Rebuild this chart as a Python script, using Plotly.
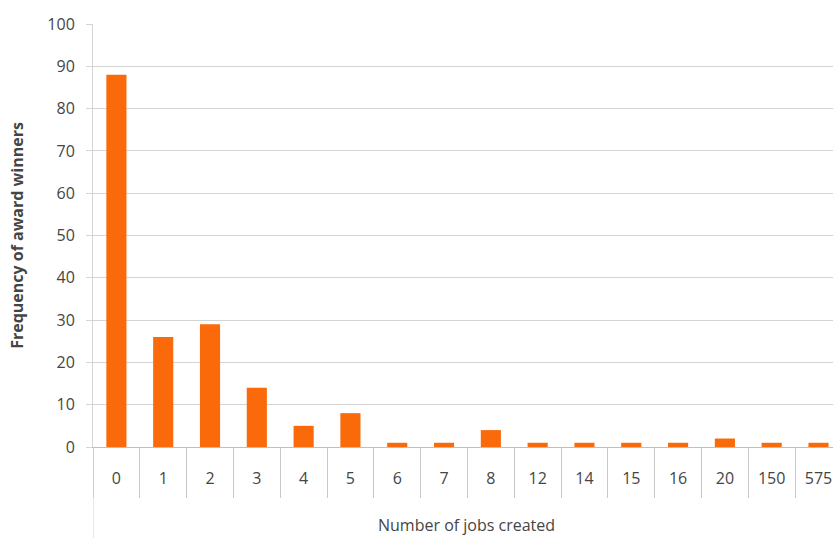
import plotly.graph_objects as go

categories = ["0", "1", "2", "3", "4", "5", "6", "7", "8", "12", "14", "15", "16", "20", "150", "575"]
frequency = [88, 26, 29, 14, 5, 8, 1, 1, 4, 1, 1, 1, 1, 2, 1, 1]
y_ticks = [0, 10, 20, 30, 40, 50, 60, 70, 80, 90, 100]

font_family = "Open Sans, sans-serif"
text_color = "#454545"
grid_color = "#d4d4d4"

fig = go.Figure(go.Bar(
    x=categories, y=frequency,
    marker=dict(color="#FA6A0A", line=dict(width=0)),
    width=0.43,
))

fig.update_layout(
    width=833, height=538,
    margin=dict(l=93, r=0, t=24, b=91),
    paper_bgcolor="white", plot_bgcolor="white",
    showlegend=False,
    font=dict(family=font_family, size=16, color=text_color),
)

fig.update_xaxes(
    type="category",
    range=[-0.5, 15.31],
    showgrid=False,
    showline=True, linecolor="#bfbfbf", linewidth=1,
    ticks="outside", tickson="boundaries", ticklen=50,
    tickcolor="#c8c8c8", tickwidth=1,
    ticklabelstandoff=17,
    tickfont=dict(size=16, color=text_color),
)

fig.update_yaxes(
    range=[0, 100],
    tickvals=y_ticks,
    showgrid=True, gridcolor=grid_color, gridwidth=1,
    zeroline=False,
    showline=True, linecolor=grid_color, linewidth=1,
    ticks="outside", ticklen=6, tickcolor=grid_color,
    ticklabelstandoff=8,
    tickfont=dict(size=16, color=text_color),
    title=dict(text="<b>Frequency of award winners</b>", font=dict(size=16, color=text_color), standoff=19),
)

# extension of the left axis line below the category label boxes
fig.add_shape(type="line", xref="x", yref="paper",
              x0=-0.5, x1=-0.5, y0=0, y1=-0.25,
              line=dict(color=grid_color, width=1))

fig.add_annotation(text="Number of jobs created", xref="paper", yref="paper",
                   x=0.505, y=-0.185, showarrow=False, xanchor="center", yanchor="middle",
                   font=dict(size=16, color=text_color))

fig.write_html("out.html")
